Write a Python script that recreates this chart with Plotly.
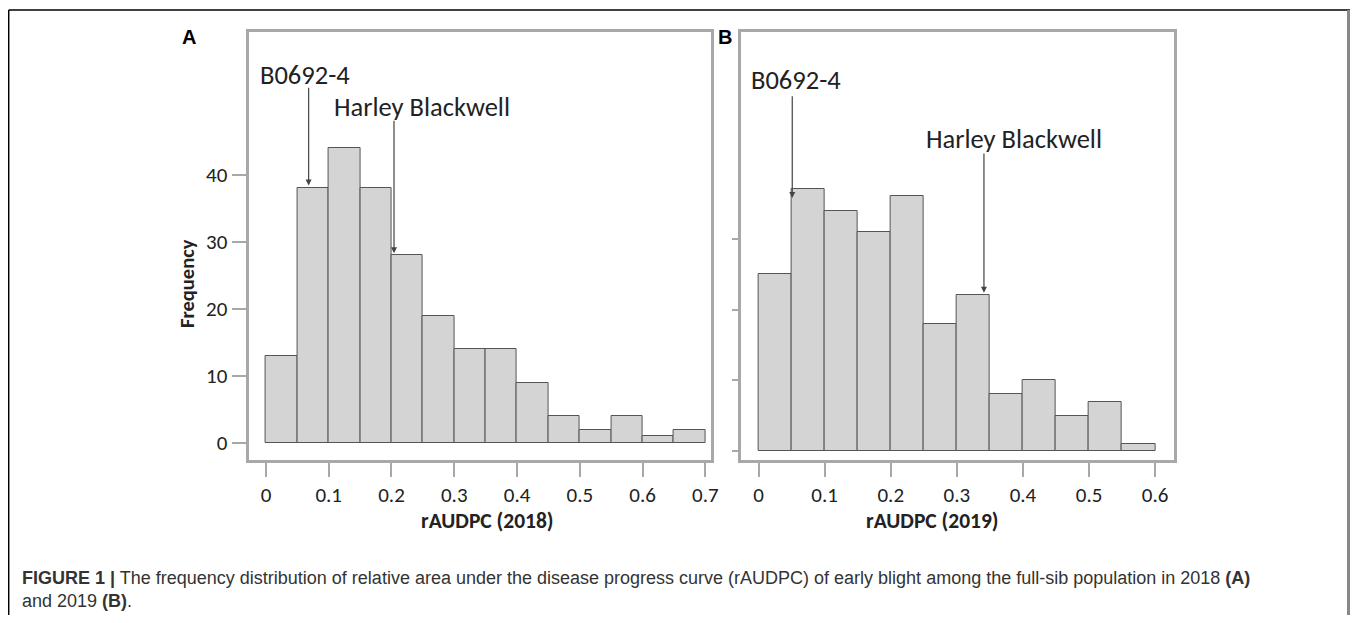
import plotly.graph_objects as go

# ---------------- data ----------------
bin_width = 0.05
bins_2018 = [0.00, 0.05, 0.10, 0.15, 0.20, 0.25, 0.30, 0.35, 0.40, 0.45, 0.50, 0.55, 0.60, 0.65]
freq_2018 = [13, 38, 44, 38, 28, 19, 14, 14, 9, 4, 2, 4, 1, 2]
bins_2019 = [0.00, 0.05, 0.10, 0.15, 0.20, 0.25, 0.30, 0.35, 0.40, 0.45, 0.50, 0.55]
freq_2019 = [25, 37, 34, 31, 36, 18, 22, 8, 10, 5, 7, 1]

xticks_2018 = [0, 0.1, 0.2, 0.3, 0.4, 0.5, 0.6, 0.7]
xlabels_2018 = ["0", "0.1", "0.2", "0.3", "0.4", "0.5", "0.6", "0.7"]
xticks_2019 = [0, 0.1, 0.2, 0.3, 0.4, 0.5, 0.6]
xlabels_2019 = ["0", "0.1", "0.2", "0.3", "0.4", "0.5", "0.6"]
yticks_2018 = [0, 10, 20, 30, 40]
yticks_2019 = [0, 10, 20, 30]

# markers: (label, arrow x, arrow tail y, arrow head y, text x, text y)
marks_2018 = [("B0692-4", 0.068, 53.2, 38.4, 0.062, 54.9),
              ("Harley Blackwell", 0.204, 48.3, 28.3, 0.248, 50.1)]
marks_2019 = [("B0692-4", 0.051, 50.4, 35.8, 0.056, 52.5),
              ("Harley Blackwell", 0.341, 42.3, 22.4, 0.386, 44.1)]

OFF = 8            # page body margin
W, H = 1358 - OFF, 623 - 2 * OFF
FONT = "Carlito, Calibri, Lato, sans-serif"
GRAY = "#a8a8a8"


def px(x):
    return (x - OFF) / W


def py(y):
    return 1 - (y - OFF) / H


fig = go.Figure()
fig.add_trace(go.Bar(x=bins_2018, y=freq_2018, offset=0, width=bin_width,
                     marker=dict(color="#d4d4d4", line=dict(color="#555555", width=1)),
                     xaxis="x", yaxis="y", showlegend=False))
fig.add_trace(go.Bar(x=bins_2019, y=freq_2019, offset=0, width=bin_width,
                     marker=dict(color="#d4d4d4", line=dict(color="#555555", width=1)),
                     xaxis="x2", yaxis="y2", showlegend=False))

axis_common = dict(showline=True, mirror=True, linecolor=GRAY, linewidth=3,
                   showgrid=False, zeroline=False, ticks="outside", tickcolor=GRAY,
                   tickwidth=2, tickfont=dict(family=FONT, size=21, color="#222"))

fig.update_layout(
    width=W, height=H, margin=dict(l=0, r=0, t=0, b=0),
    paper_bgcolor="white", plot_bgcolor="white", bargap=0,
    xaxis=dict(domain=[px(250), px(715)], range=[-0.0277, 0.7087],
               tickvals=xticks_2018, ticktext=xlabels_2018, ticklen=14, anchor="y",
               **axis_common),
    yaxis=dict(domain=[py(460), py(32)], range=[-2.55, 61.3],
               tickvals=yticks_2018, ticklen=14, anchor="x", **axis_common),
    xaxis2=dict(domain=[px(745), px(1181)], range=[-0.0271, 0.6286],
                tickvals=xticks_2019, ticktext=xlabels_2019, ticklen=14, anchor="y2",
                **axis_common),
    yaxis2=dict(domain=[py(460), py(32)], range=[-1.27, 59.26],
                tickvals=yticks_2019, ticklen=6, showticklabels=False, anchor="x2",
                **axis_common),
)

annotations = []
for marks, xr, yr in [(marks_2018, "x", "y"), (marks_2019, "x2", "y2")]:
    for label, axx, tail, head, tx, ty in marks:
        annotations.append(dict(x=axx, y=head, ax=axx, ay=tail, xref=xr, yref=yr,
                                axref=xr, ayref=yr, text="", showarrow=True,
                                arrowhead=2, arrowsize=1, arrowwidth=1.2,
                                arrowcolor="#444", standoff=0, startstandoff=0))
        annotations.append(dict(x=tx, y=ty, xref=xr, yref=yr, text=label, showarrow=False,
                                xanchor="center", yanchor="middle",
                                font=dict(family=FONT, size=26.5, color="#222")))


def label(x, y, text, size, family=FONT, angle=0, color="#222"):
    return dict(x=px(x), y=py(y), xref="paper", yref="paper", text=text, textangle=angle,
                xanchor="center", yanchor="middle", showarrow=False,
                font=dict(family=family, size=size, color=color))


annotations.append(label(190, 37, "<b>A</b>", 20, "Liberation Sans, Arial", color="#000"))
annotations.append(label(729, 37, "<b>B</b>", 20, "Liberation Sans, Arial", color="#000"))
annotations.append(label(188, 283, "<b>Frequency</b>", 20.5, angle=-90))
annotations.append(label(490, 521, "<b>rAUDPC (2018)</b>", 21.5))
annotations.append(label(938, 521, "<b>rAUDPC (2019)</b>", 21.5))

caption = ("<b>FIGURE 1 |</b> The frequency distribution of relative area under the disease progress curve "
           "(rAUDPC) of early blight among the full-sib population in 2018 <b>(A)</b><br>and 2019 <b>(B)</b>.")
annotations.append(dict(x=px(20), y=py(566), xref="paper", yref="paper", text=caption,
                        xanchor="left", yanchor="top", align="left", showarrow=False,
                        font=dict(family="Liberation Sans, Arial, sans-serif", size=18,
                                  color="#333")))
fig.update_layout(annotations=annotations)

# outer frame
fig.add_shape(type="line", xref="paper", yref="paper", x0=px(8.7), x1=px(1358), y0=py(10), y1=py(10),
              line=dict(color="#000", width=1.5))
fig.add_shape(type="line", xref="paper", yref="paper", x0=px(8.7), x1=px(8.7), y0=py(10), y1=py(640),
              line=dict(color="#000", width=1.5))
fig.add_shape(type="line", xref="paper", yref="paper", x0=px(1356.5), x1=px(1356.5), y0=py(10), y1=py(640),
              line=dict(color="#888", width=3))

fig.write_html("out.html")
